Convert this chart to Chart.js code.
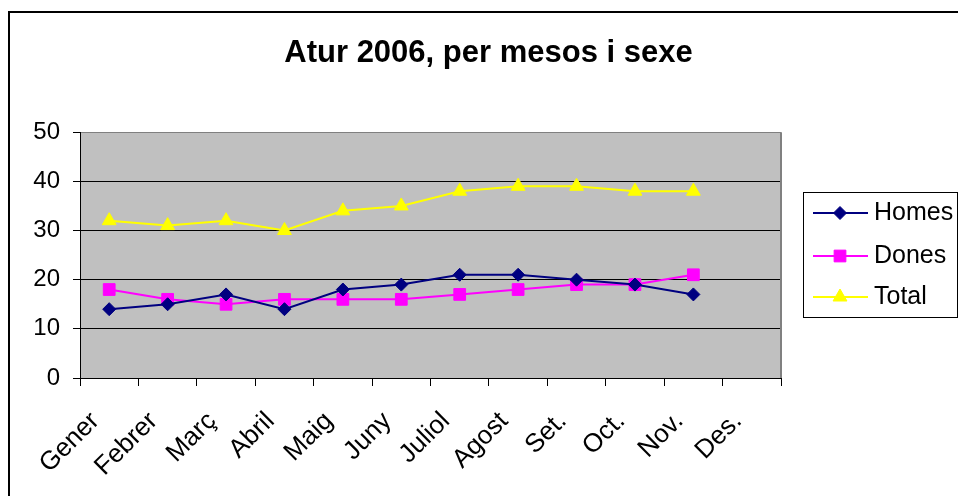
<!DOCTYPE html>
<html>
<head>
<meta charset="utf-8">
<script src="https://cdn.jsdelivr.net/npm/chart.js@4"></script>
<style>
  html, body { margin: 0; padding: 0; background: #fff; }
  #c { display: block; }
</style>
</head>
<body>
<canvas id="c" width="958" height="496"></canvas>
<script>
const chartTitle = 'Atur 2006, per mesos i sexe';
const months = ['Gener', 'Febrer', 'Març', 'Abril', 'Maig', 'Juny', 'Juliol', 'Agost', 'Set.', 'Oct.', 'Nov.', 'Des.'];
const homes = [14, 15, 17, 14, 18, 19, 21, 21, 20, 19, 17, null];
const dones = [18, 16, 15, 16, 16, 16, 17, 18, 19, 19, 21, null];
const total = [32, 31, 32, 30, 34, 35, 38, 39, 39, 38, 38, null];
const yTicks = [0, 10, 20, 30, 40, 50];

const FONT = "'Liberation Sans', Arial, sans-serif";

const framePlugin = {
  id: 'frame',
  beforeDraw(chart) {
    const ctx = chart.ctx, a = chart.chartArea;
    ctx.save();
    ctx.fillStyle = '#ffffff';
    ctx.fillRect(0, 0, chart.width, chart.height);
    ctx.strokeStyle = '#000000';
    ctx.lineWidth = 2;
    ctx.strokeRect(9, 12, chart.width + 20, chart.height + 20);
    ctx.fillStyle = '#C0C0C0';
    ctx.fillRect(a.left, a.top, a.right - a.left, a.bottom - a.top);
    ctx.restore();
  },
  afterDatasetsDraw(chart) {
    const ctx = chart.ctx, a = chart.chartArea;
    ctx.save();
    ctx.strokeStyle = '#808080';
    ctx.lineWidth = 2;
    ctx.beginPath();
    ctx.moveTo(a.right, a.top);
    ctx.lineTo(a.right, a.bottom);
    ctx.stroke();
    ctx.restore();
  }
};

const legendPlugin = {
  id: 'boxLegend',
  afterDraw(chart) {
    const ctx = chart.ctx;
    const bx = 803, by = 192, bw = 154, bh = 125;
    ctx.save();
    ctx.strokeStyle = '#000';
    ctx.lineWidth = 1;
    ctx.strokeRect(bx + 0.5, by + 0.5, bw, bh);
    const rows = [213, 256, 297];
    chart.data.datasets.forEach((ds, i) => {
      const y = rows[i];
      ctx.strokeStyle = ds.borderColor;
      ctx.lineWidth = 2;
      ctx.beginPath();
      ctx.moveTo(813, y);
      ctx.lineTo(868, y);
      ctx.stroke();
      ctx.fillStyle = ds.backgroundColor;
      ctx.strokeStyle = ds.borderColor;
      ctx.lineWidth = 1;
      Chart.helpers.drawPoint(ctx, {pointStyle: ds.pointStyle, radius: ds.pointRadius, borderWidth: 1, rotation: 0}, 840, y);
      ctx.fillStyle = '#000';
      ctx.font = '25px ' + FONT;
      ctx.textAlign = 'left';
      ctx.textBaseline = 'middle';
      ctx.fillText(ds.label, 874, y);
    });
    ctx.restore();
  }
};

new Chart(document.getElementById('c'), {
  type: 'line',
  data: {
    labels: months,
    datasets: [
      { label: 'Homes', data: homes, borderColor: '#000080', backgroundColor: '#000080',
        pointStyle: 'rectRot', pointRadius: 6.5, borderWidth: 2, pointBorderWidth: 1 },
      { label: 'Dones', data: dones, borderColor: '#FF00FF', backgroundColor: '#FF00FF',
        pointStyle: 'rect', pointRadius: 8.3, borderWidth: 2, pointBorderWidth: 1 },
      { label: 'Total', data: total, borderColor: '#FFFF00', backgroundColor: '#FFFF00',
        pointStyle: 'triangle', pointRadius: 8, borderWidth: 2, pointBorderWidth: 1 }
    ]
  },
  options: {
    responsive: false,
    animation: false,
    devicePixelRatio: 1,
    layout: { padding: { left: 19, right: 0, top: 0, bottom: 0 } },
    elements: { line: { tension: 0 } },
    plugins: {
      legend: { display: false },
      tooltip: { enabled: false },
      title: {
        display: true,
        text: chartTitle,
        color: '#000',
        font: { family: FONT, size: 31, weight: 'bold' },
        padding: { top: 35, bottom: 60 }
      }
    },
    scales: {
      x: {
        type: 'category',
        offset: true,
        grid: { display: true, offset: true, drawOnChartArea: false, drawTicks: true, tickLength: 8, color: '#000', tickColor: '#000' },
        border: { display: true, color: '#000', width: 1 },
        ticks: { color: '#000', font: { family: FONT, size: 26 }, minRotation: 45, maxRotation: 45, padding: 20, autoSkip: false, labelOffset: -14 },
        afterFit(s) { s.height = 118; }
      },
      y: {
        min: 0, max: 50,
        afterBuildTicks(s) { s.ticks = yTicks.map(v => ({ value: v })); },
        grid: {
          color: (c) => (c.tick && c.tick.value === 50 ? '#808080' : '#000'),
          tickColor: '#000', tickLength: 7, lineWidth: 1
        },
        border: { display: true, color: '#000', width: 1 },
        ticks: { color: '#000', font: { family: FONT, size: 24 }, padding: 13 },
        afterFit(s) { s.width = 61; }
      },
      yR: {
        position: 'right',
        display: true,
        grid: { display: false },
        border: { display: false },
        ticks: { display: false },
        afterFit(s) { s.width = 177; }
      }
    }
  },
  plugins: [framePlugin, legendPlugin]
});
</script>
</body>
</html>
